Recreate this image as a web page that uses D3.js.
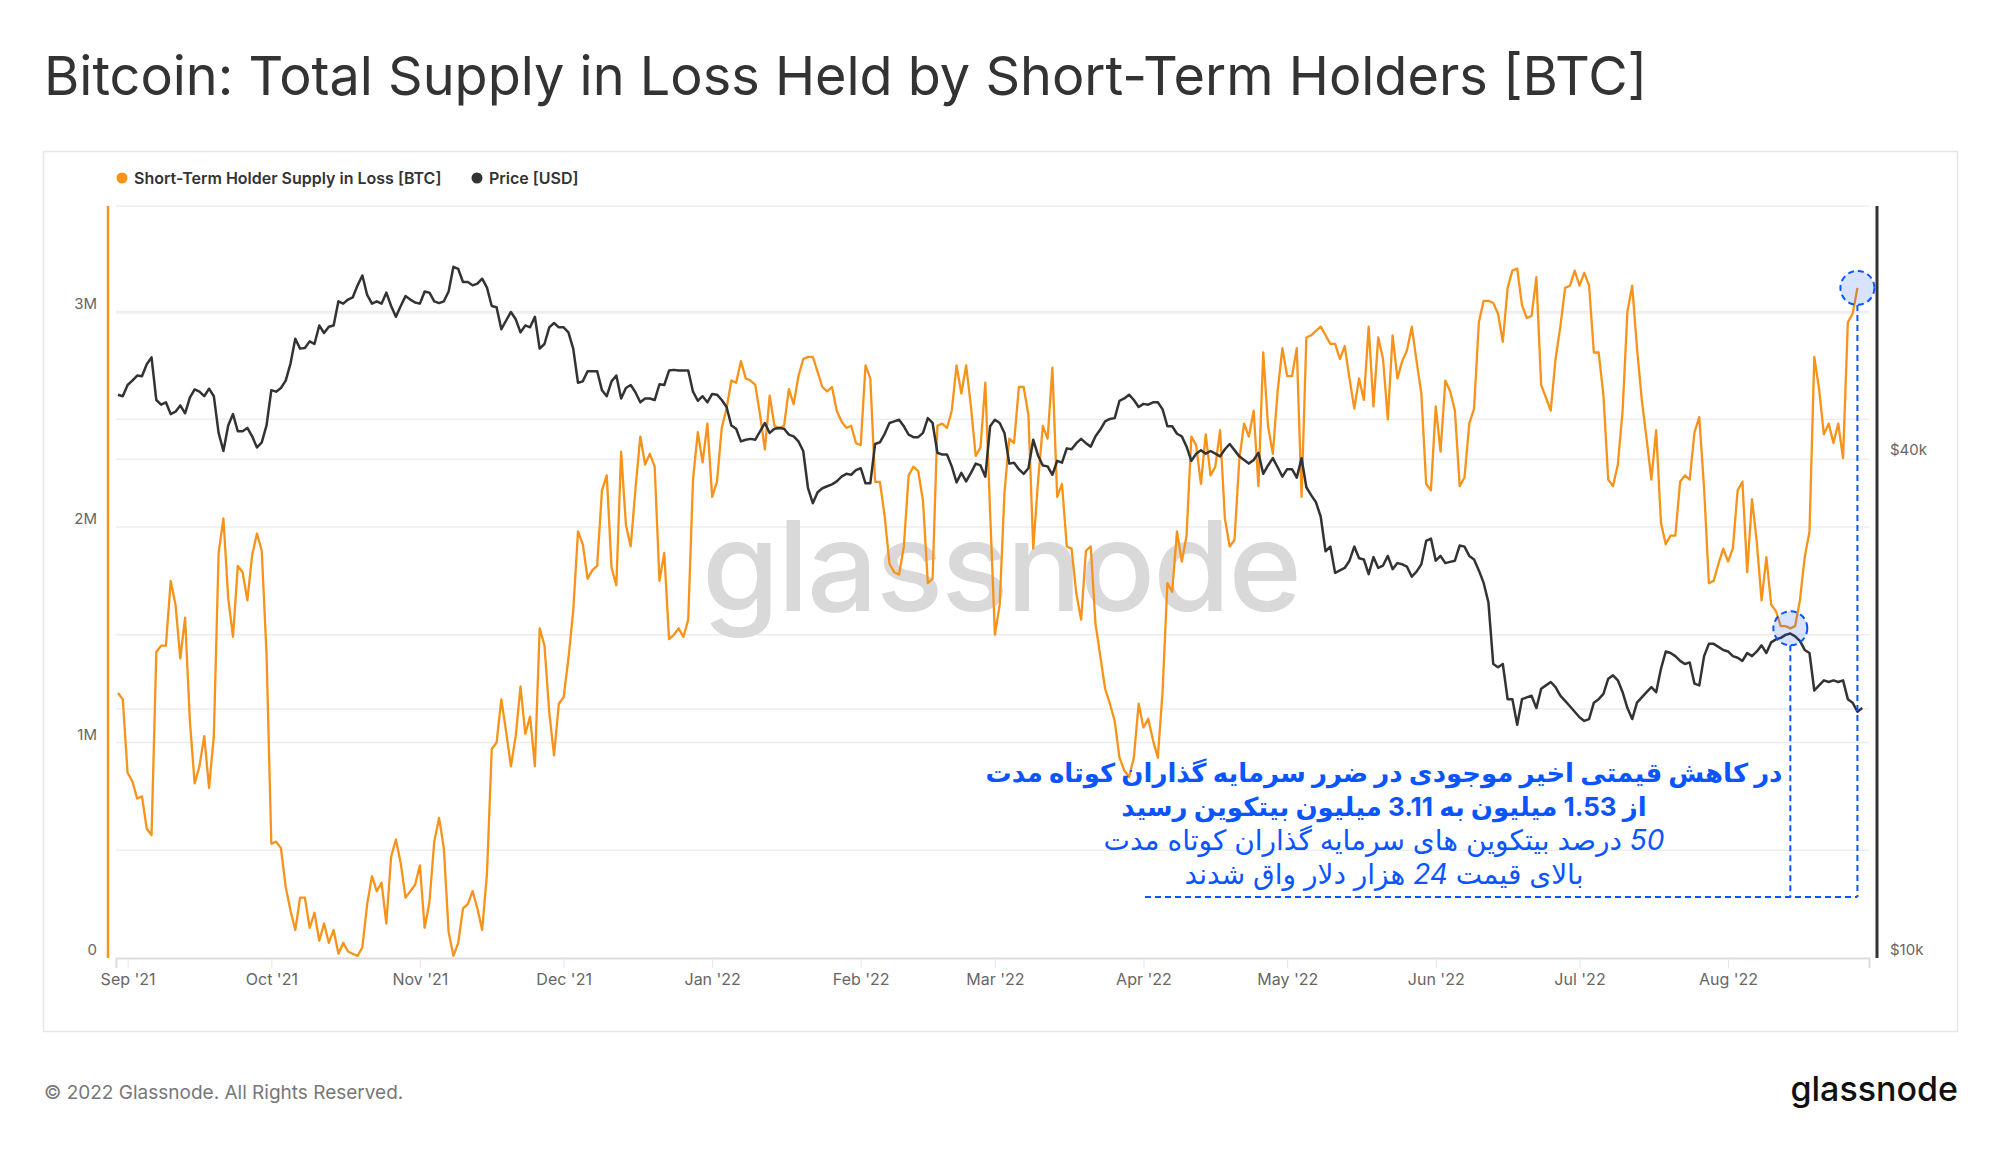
<!DOCTYPE html>
<html>
<head>
<meta charset="utf-8">
<script src="https://d3js.org/d3.v7.min.js"></script>
<style>
  body { margin: 0; background: #fff; }
  svg { display: block; }
</style>
</head>
<body>
<svg id="chart" width="2000" height="1152"></svg>
<script>
// ---- data (daily) ----
var supplyStart = "2021-08-30";   // first day of supplyInLoss
var priceStart = "2021-08-30";    // first day of price

// Short-Term Holder Supply in Loss, millions of BTC
var supplyInLoss = [
  1.23, 1.20,
  // Sep '21
  0.86, 0.82, 0.74, 0.75, 0.60, 0.57, 1.42, 1.45, 1.45, 1.75,
  1.64, 1.39, 1.58, 1.10, 0.81, 0.89, 1.03, 0.79, 1.03, 1.88,
  2.04, 1.67, 1.49, 1.82, 1.79, 1.66, 1.87, 1.97, 1.89, 1.41,
  // Oct '21
  0.53, 0.54, 0.51, 0.33, 0.22, 0.13, 0.28, 0.28, 0.14, 0.21,
  0.08, 0.16, 0.07, 0.13, 0.02, 0.07, 0.03, 0.02, 0.01, 0.05,
  0.25, 0.38, 0.31, 0.35, 0.16, 0.47, 0.55, 0.44, 0.28, 0.31, 0.34,
  // Nov '21
  0.43, 0.14, 0.26, 0.54, 0.65, 0.51, 0.12, 0.01, 0.07, 0.23,
  0.25, 0.31, 0.23, 0.13, 0.39, 0.97, 1.00, 1.20, 1.05, 0.89,
  1.03, 1.26, 1.04, 1.12, 0.89, 1.53, 1.45, 1.14, 0.94, 1.18,
  // Dec '21
  1.21, 1.39, 1.61, 1.98, 1.92, 1.76, 1.80, 1.82, 2.17, 2.24,
  1.81, 1.73, 2.35, 2.01, 1.91, 2.18, 2.42, 2.29, 2.34, 2.28,
  1.75, 1.88, 1.48, 1.50, 1.53, 1.49, 1.57, 2.22, 2.44, 2.30, 2.48,
  // Jan '22
  2.14, 2.21, 2.46, 2.55, 2.68, 2.67, 2.77, 2.69, 2.68, 2.66,
  2.52, 2.36, 2.61, 2.47, 2.46, 2.47, 2.64, 2.57, 2.70, 2.78,
  2.79, 2.79, 2.72, 2.65, 2.63, 2.65, 2.54, 2.49, 2.46, 2.47, 2.39,
  // Feb '22
  2.38, 2.75, 2.69, 2.21, 2.21, 2.05, 1.83, 1.79, 1.78, 1.91,
  2.24, 2.28, 2.26, 2.12, 1.74, 1.76, 2.47, 2.48, 2.46, 2.54,
  2.75, 2.62, 2.75, 2.56, 2.33, 2.37, 2.67, 2.07,
  // Mar '22
  1.50, 1.64, 2.16, 2.41, 2.39, 2.65, 2.65, 2.52, 1.90, 2.21,
  2.47, 2.41, 2.74, 2.14, 2.20, 1.91, 1.90, 1.69, 1.57, 1.89,
  1.91, 1.55, 1.40, 1.25, 1.18, 1.10, 0.93, 0.87, 0.84, 0.93, 1.18,
  // Apr '22
  1.07, 1.11, 1.01, 0.93, 1.24, 1.74, 1.70, 1.98, 1.84, 1.96,
  2.42, 2.38, 2.20, 2.43, 2.24, 2.28, 2.45, 2.04, 1.91, 1.94,
  2.31, 2.48, 2.42, 2.54, 2.19, 2.81, 2.47, 2.34, 2.63, 2.83,
  // May '22
  2.70, 2.70, 2.83, 2.14, 2.88, 2.89, 2.91, 2.93, 2.89, 2.85,
  2.85, 2.78, 2.84, 2.69, 2.55, 2.69, 2.59, 2.93, 2.56, 2.88,
  2.78, 2.50, 2.89, 2.69, 2.77, 2.82, 2.93, 2.77, 2.62, 2.20, 2.17,
  // Jun '22
  2.56, 2.35, 2.68, 2.63, 2.54, 2.19, 2.23, 2.48, 2.55, 2.95,
  3.05, 3.05, 3.04, 2.99, 2.86, 3.11, 3.19, 3.20, 3.03, 2.97,
  2.98, 3.16, 2.66, 2.60, 2.54, 2.78, 2.93, 3.11, 3.12, 3.19,
  // Jul '22
  3.12, 3.18, 3.12, 2.81, 2.81, 2.61, 2.22, 2.19, 2.29, 2.54,
  3.00, 3.12, 2.83, 2.59, 2.41, 2.22, 2.45, 2.02, 1.92, 1.96,
  1.96, 2.21, 2.24, 2.22, 2.44, 2.51, 2.18, 1.74, 1.75, 1.83, 1.90,
  // Aug '22
  1.84, 1.90, 2.17, 2.21, 1.79, 2.13, 1.93, 1.66, 1.86, 1.64,
  1.61, 1.54, 1.54, 1.53, 1.54, 1.66, 1.86, 1.98, 2.79, 2.64,
  2.43, 2.48, 2.39, 2.48, 2.32, 2.95, 2.99, 3.11
];

// BTC price, thousands of USD
var price = [
  47.7, 47.5,
  // Sep '21
  49.0, 49.6, 50.3, 50.2, 51.9, 52.9, 47.0, 46.4, 46.7, 45.2,
  45.5, 46.3, 45.3, 47.3, 48.4, 48.1, 47.5, 48.5, 47.5, 42.9,
  40.8, 43.8, 45.2, 43.1, 43.1, 43.5, 42.5, 41.2, 41.8, 43.8,
  // Oct '21
  48.3, 48.1, 48.6, 49.6, 52.0, 55.7, 54.2, 54.3, 55.3, 54.9,
  57.8, 56.6, 57.6, 57.8, 61.8, 61.4, 62.1, 62.5, 64.6, 66.4,
  62.9, 61.4, 61.8, 61.4, 63.3, 61.0, 59.2, 61.0, 62.7, 62.1, 61.6,
  // Nov '21
  61.4, 63.5, 63.3, 61.8, 61.5, 61.8, 63.5, 68.0, 67.6, 65.2,
  65.2, 64.6, 64.9, 65.8, 64.2, 61.0, 60.8, 57.2, 58.6, 60.0,
  58.8, 56.7, 57.8, 57.5, 59.2, 54.2, 54.9, 57.5, 58.2, 57.5,
  // Dec '21
  57.5, 56.7, 54.2, 49.3, 49.5, 50.9, 50.9, 50.9, 48.3, 47.5,
  49.5, 50.3, 47.2, 48.6, 49.0, 48.0, 46.7, 47.2, 47.2, 47.0,
  49.1, 49.0, 51.0, 51.1, 51.0, 51.0, 51.0, 48.1, 46.9, 47.5, 46.7,
  // Jan '22
  47.8, 47.7, 47.0, 46.1, 43.8, 43.4, 41.9, 42.1, 42.2, 42.1,
  43.1, 44.1, 42.9, 43.4, 43.5, 43.4, 42.7, 42.5, 41.9, 40.8,
  36.8, 35.3, 36.4, 36.8, 37.0, 37.2, 37.5, 38.0, 38.3, 38.2, 38.7,
  // Feb '22
  38.9, 37.3, 37.3, 41.6, 41.8, 42.8, 44.1, 44.3, 44.5, 43.7,
  42.7, 42.4, 42.4, 42.9, 44.7, 44.1, 40.6, 40.4, 40.4, 39.1,
  37.4, 38.4, 37.5, 38.4, 39.4, 39.2, 38.0, 43.7,
  // Mar '22
  44.5, 44.1, 42.9, 39.4, 39.5, 38.8, 38.3, 38.9, 42.1, 40.3,
  39.2, 39.1, 38.2, 39.7, 39.5, 41.1, 41.0, 41.7, 42.2, 41.7,
  41.3, 42.5, 43.3, 44.3, 44.6, 44.7, 46.9, 47.2, 47.7, 47.0, 46.1,
  // Apr '22
  46.5, 46.4, 46.7, 46.7, 45.8, 43.7, 43.7, 42.8, 42.5, 41.3,
  39.7, 40.5, 40.9, 40.5, 40.8, 40.5, 40.2, 41.0, 41.6, 40.9,
  40.2, 39.8, 39.4, 39.8, 40.6, 38.3, 39.2, 40.0, 39.0, 38.0,
  // May '22
  38.8, 38.8, 37.9, 40.0, 36.9, 36.1, 35.4, 34.0, 30.9, 31.3,
  29.1, 29.3, 29.5, 30.1, 31.3, 30.3, 30.2, 29.0, 30.4, 29.5,
  29.7, 30.5, 29.4, 29.9, 29.8, 29.6, 28.8, 29.2, 29.8, 31.8, 32.0,
  // Jun '22
  30.1, 30.5, 29.9, 30.0, 30.1, 31.4, 31.3, 30.5, 30.2, 29.3,
  28.3, 26.8, 22.6, 22.4, 22.6, 20.5, 20.5, 19.1, 20.5, 20.6,
  20.7, 20.0, 21.1, 21.3, 21.5, 21.2, 20.7, 20.4, 20.1, 19.8,
  // Jul '22
  19.5, 19.3, 19.4, 20.3, 20.5, 20.8, 21.7, 21.9, 21.6, 20.9,
  20.0, 19.4, 20.3, 20.6, 20.9, 21.2, 20.9, 22.3, 23.4, 23.3,
  23.1, 22.8, 22.6, 22.7, 21.4, 21.3, 23.1, 23.9, 23.9, 23.7, 23.5,
  // Aug '22
  23.4, 23.1, 23.0, 22.8, 23.3, 23.1, 23.4, 23.8, 23.3, 24.0,
  24.2, 24.3, 24.5, 24.6, 24.4, 24.1, 23.5, 23.3, 21.0, 21.3,
  21.6, 21.5, 21.6, 21.5, 21.6, 20.5, 20.3, 19.8, 20.0
];

// axis ticks
var leftGrid = [0.5, 1, 1.5, 2, 2.5, 3];
var leftLabels = [0, 1, 2, 3];
var rightGrid = [20000, 40000, 60000];
var rightLabels = [10000, 40000];

// highlighted points of the annotation
var marked = [
  {date: "2022-08-14", value: 1.53},
  {date: "2022-08-28", value: 3.11}
];
// each line: list of [text, italic]
var noteLines = [
  {bold: true, parts: [["در کاهش قیمتی اخیر موجودی در ضرر سرمایه گذاران کوتاه مدت", false]]},
  {bold: true, parts: [["از 1.53 میلیون به 3.11 میلیون بیتکوین رسید", false]]},
  {bold: false, parts: [["50", true], [" درصد بیتکوین های سرمایه گذاران کوتاه مدت", false]]},
  {bold: false, parts: [["بالای قیمت ", false], ["24", true], [" هزار دلار واق شدند", false]]}
];

// ---- drawing ----
var svg = d3.select("#chart");
var font = "Inter, 'DejaVu Sans', sans-serif";
var orange = "#f7931a", dark = "#333333", blue = "#0a55ff";
var yTop = 206, yBottom = 958;

var parse = d3.utcParse("%Y-%m-%d");
function daily(start, arr) {
  var t0 = parse(start);
  return arr.map(function(v, i) { return {date: d3.utcDay.offset(t0, i), value: v}; });
}
var supplyData = daily(supplyStart, supplyInLoss);
var priceData = daily(priceStart, price);

var x = d3.scaleUtc()
  .domain([new Date(Date.UTC(2021, 7, 29, 14)), new Date(Date.UTC(2022, 7, 30, 10))])
  .range([116, 1869]);
var yL = d3.scaleLinear().domain([0, 3.49]).range([yBottom, yTop]);
var yR = d3.scaleLog().domain([10000, 80500]).range([yBottom, yTop]);

// title
svg.append("text")
  .attr("x", 44).attr("y", 95)
  .style("font-family", font).style("font-size", "54px")
  .style("fill", "#333")
  .text("Bitcoin: Total Supply in Loss Held by Short-Term Holders [BTC]");

// chart frame
svg.append("rect")
  .attr("x", 43.5).attr("y", 151.5).attr("width", 1914).attr("height", 880)
  .style("fill", "none").style("stroke", "#e6e6e6").style("stroke-width", 1.5);

// legend
var legend = [
  {label: "Short-Term Holder Supply in Loss [BTC]", color: orange, x: 122},
  {label: "Price [USD]", color: dark, x: 477}
];
legend.forEach(function(l) {
  svg.append("circle").attr("cx", l.x).attr("cy", 178).attr("r", 5.5).style("fill", l.color);
  svg.append("text").attr("x", l.x + 12).attr("y", 178).attr("dy", "0.35em")
    .style("font-family", font).style("font-size", "16px").style("font-weight", 600)
    .style("fill", "#333").text(l.label);
});

// grid
var grid = svg.append("g").style("stroke", "#ededed").style("stroke-width", 1.5);
grid.append("line").attr("x1", 116).attr("x2", 1869).attr("y1", yTop).attr("y2", yTop);
leftGrid.forEach(function(v) {
  grid.append("line").attr("x1", 116).attr("x2", 1869).attr("y1", yL(v)).attr("y2", yL(v));
});
rightGrid.forEach(function(v) {
  grid.append("line").attr("x1", 116).attr("x2", 1869).attr("y1", yR(v) + 1).attr("y2", yR(v) + 1);
});

// x axis
var xAxis = svg.append("g").attr("transform", "translate(0," + yBottom + ")")
  .call(d3.axisBottom(x).ticks(d3.utcMonth.every(1)).tickFormat(d3.utcFormat("%b '%y")).tickSize(10).tickPadding(6));
xAxis.select(".domain").style("stroke", "#dcdcdc").style("stroke-width", 2);
xAxis.selectAll(".tick line").style("stroke", "#e6e6e6");
xAxis.selectAll("text").style("font-family", font).style("font-size", "16px").style("fill", "#666");

// left labels
svg.selectAll(".ly").data(leftLabels).enter().append("text")
  .attr("x", 97).attr("y", function(d) { return yL(d) - 8; }).attr("dy", "0.35em")
  .attr("text-anchor", "end")
  .style("font-family", font).style("font-size", "15px").style("fill", "#666")
  .text(function(d) { return d === 0 ? "0" : d + "M"; });

// right labels
svg.selectAll(".ry").data(rightLabels).enter().append("text")
  .attr("x", 1890).attr("y", function(d) { return yR(d) - 8; }).attr("dy", "0.35em")
  .style("font-family", font).style("font-size", "15px").style("fill", "#666")
  .text(function(d) { return "$" + d / 1000 + "k"; });

// watermark
svg.append("text")
  .attr("x", 1001).attr("y", 611).attr("text-anchor", "middle")
  .style("font-family", font).style("font-size", "125px").style("font-weight", 500)
  .style("letter-spacing", "-2px").style("fill", "#d9d9d9")
  .text("glassnode");

// lines
var supplyLine = d3.line().x(function(d) { return x(d.date); }).y(function(d) { return yL(d.value); });
var priceLine = d3.line().x(function(d) { return x(d.date); }).y(function(d) { return yR(d.value * 1000); });

svg.append("path").datum(supplyData).attr("d", supplyLine)
  .style("fill", "none").style("stroke", orange).style("stroke-width", 2.3).style("stroke-linejoin", "round");
svg.append("path").datum(priceData).attr("d", priceLine)
  .style("fill", "none").style("stroke", dark).style("stroke-width", 2.5).style("stroke-linejoin", "round");

// side axis lines
svg.append("line").attr("x1", 108).attr("x2", 108).attr("y1", yTop).attr("y2", yBottom)
  .style("stroke", orange).style("stroke-width", 2.5);
svg.append("line").attr("x1", 1877).attr("x2", 1877).attr("y1", yTop).attr("y2", yBottom)
  .style("stroke", dark).style("stroke-width", 3);

// annotation
var noteY = 897;
var dash = "6,4";
marked.forEach(function(m) {
  var cx = x(parse(m.date)), cy = yL(m.value);
  svg.append("line").attr("x1", cx).attr("x2", cx).attr("y1", cy + 17).attr("y2", noteY)
    .style("stroke", blue).style("stroke-width", 2).style("stroke-dasharray", dash);
  svg.append("circle").attr("cx", cx).attr("cy", cy).attr("r", 17)
    .style("fill", "rgba(10,85,255,0.16)").style("stroke", blue)
    .style("stroke-width", 2).style("stroke-dasharray", dash);
});
svg.append("line")
  .attr("x1", 1145).attr("x2", x(parse(marked[1].date)))
  .attr("y1", noteY).attr("y2", noteY)
  .style("stroke", blue).style("stroke-width", 2).style("stroke-dasharray", dash);

noteLines.forEach(function(l, i) {
  var t = svg.append("text")
    .attr("x", 1384).attr("y", 782 + i * 34)
    .attr("text-anchor", "middle").attr("direction", "rtl")
    .style("font-family", font).style("font-size", l.bold ? "26px" : "28px")
    .style("font-weight", l.bold ? 700 : 400)
    .style("fill", blue);
  l.parts.forEach(function(p) {
    t.append("tspan").style("font-style", p[1] ? "italic" : "normal").text(p[0]);
  });
});

// footer
svg.append("text").attr("x", 44).attr("y", 1099)
  .style("font-family", font).style("font-size", "19px").style("fill", "#777")
  .text("© 2022 Glassnode. All Rights Reserved.");
svg.append("text").attr("x", 1958).attr("y", 1101).attr("text-anchor", "end")
  .style("font-family", font).style("font-size", "34px").style("font-weight", 500)
  .style("fill", "#111")
  .text("glassnode");
</script>
</body>
</html>
